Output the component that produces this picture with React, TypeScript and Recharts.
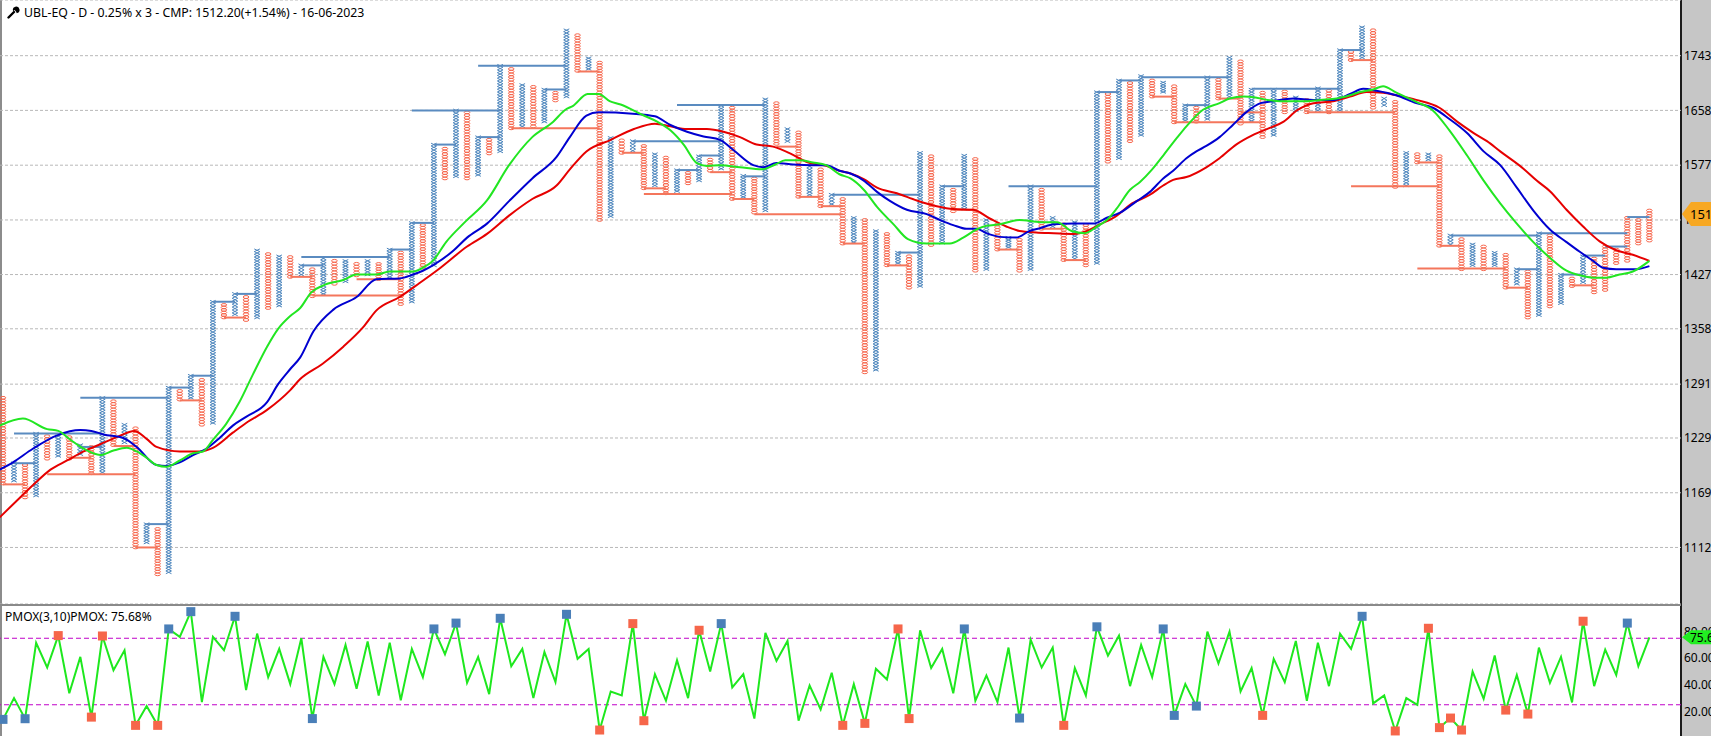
import React from 'react';
import {
  ComposedChart,
  Bar,
  Line,
  XAxis,
  YAxis,
  CartesianGrid,
  ReferenceLine,
} from 'recharts';

const title = 'UBL-EQ - D - 0.25% x 3 - CMP: 1512.20(+1.54%) - 16-06-2023';
const oscTitle = 'PMOX(3,10)PMOX: 75.68%';
const cmp = 1512.2;
const cmpText = '1512.20';
const pmoxLast = 75.68;
const pmoxText = '75.68';

const priceTicks = [1112, 1169, 1229, 1291, 1358, 1427, 1500, 1577, 1658, 1743];
const oscTicks = [20, 40, 60, 80];

// one char per column, O = falling (red), X = rising (blue)
const colType =
  'OXOXOXOXOXOXOXOXOXOXOXOXOXOXOXOXOXOXOXOXOXOXOXOXOXOXOXOXOXOXOXOXOXOXOXOXOXOXOXOXOXOXOXOXOXOXOXOXOXOXOXOXOXOXOXOXOXOXOXOXOXOXOXOXOXOXOXOXOXOXOXOX';

const colLow = [
  1179, 1182, 1164, 1166, 1206, 1209, 1206, 1211, 1190, 1191,
  1221, 1224, 1112, 1117, 1085, 1087, 1273, 1275, 1244, 1246,
  1372, 1376, 1369, 1372, 1384, 1387, 1424, 1427, 1399, 1402,
  1415, 1418, 1426, 1427, 1421, 1424, 1389, 1392, 1436, 1439,
  1558, 1561, 1558, 1563, 1594, 1597, 1631, 1634, 1634, 1641,
  1673, 1679, 1719, 1722, 1500, 1505, 1595, 1598, 1544, 1548,
  1537, 1540, 1551, 1555, 1569, 1572, 1529, 1532, 1510, 1513,
  1608, 1612, 1532, 1535, 1519, 1522, 1468, 1470, 1305, 1308,
  1439, 1442, 1410, 1412, 1466, 1469, 1512, 1515, 1432, 1434,
  1460, 1463, 1432, 1434, 1488, 1491, 1446, 1448, 1439, 1442,
  1582, 1587, 1612, 1621, 1679, 1686, 1640, 1643, 1641, 1645,
  1676, 1679, 1638, 1642, 1618, 1621, 1655, 1658, 1655, 1658,
  1655, 1658, 1736, 1740, 1662, 1666, 1546, 1548, 1581, 1585,
  1465, 1467, 1434, 1439, 1434, 1439, 1410, 1415, 1372, 1375,
  1386, 1390, 1412, 1417, 1404, 1407, 1442, 1445, 1468, 1472,
];

const colHigh = [
  1275, 1201, 1199, 1234, 1231, 1231, 1230, 1221, 1219, 1275,
  1271, 1244, 1240, 1136, 1131, 1287, 1283, 1301, 1296, 1392,
  1388, 1402, 1398, 1459, 1454, 1451, 1450, 1439, 1434, 1448,
  1445, 1445, 1441, 1445, 1441, 1460, 1456, 1496, 1493, 1607,
  1601, 1658, 1655, 1618, 1614, 1727, 1722, 1697, 1694, 1690,
  1685, 1784, 1776, 1739, 1732, 1617, 1613, 1612, 1605, 1593,
  1588, 1570, 1566, 1590, 1585, 1665, 1662, 1562, 1558, 1675,
  1669, 1630, 1625, 1575, 1571, 1535, 1529, 1503, 1500, 1485,
  1481, 1456, 1451, 1595, 1590, 1547, 1542, 1591, 1586, 1500,
  1494, 1476, 1473, 1547, 1542, 1503, 1494, 1497, 1493, 1686,
  1683, 1704, 1700, 1711, 1704, 1701, 1695, 1666, 1662, 1709,
  1705, 1740, 1734, 1690, 1685, 1690, 1687, 1678, 1674, 1692,
  1688, 1752, 1749, 1789, 1784, 1676, 1671, 1595, 1593, 1593,
  1590, 1479, 1474, 1467, 1464, 1456, 1453, 1434, 1431, 1482,
  1479, 1427, 1422, 1451, 1448, 1464, 1460, 1503, 1500, 1513,
];

// moving averages: [column position, price]
const maGreen = [
  [-0.3, 1243], [1.8, 1251], [4, 1239], [5, 1237], [6.1, 1227], [7.3, 1217], [8.8, 1210], [10, 1215],
  [11.2, 1218], [12.1, 1214], [13, 1207], [13.9, 1199], [14.8, 1197], [16, 1204], [17.2, 1212], [18.1, 1214],
  [19, 1227], [20.2, 1245], [21.4, 1270], [22.6, 1302], [23.9, 1336], [24.9, 1358], [26, 1374], [26.9, 1384],
  [27.9, 1404], [29, 1413], [30.8, 1420], [32, 1427], [33.8, 1427], [35, 1431], [37.1, 1431], [38, 1436],
  [38.9, 1445], [40.1, 1470], [41.8, 1497], [43.8, 1527], [45.8, 1577], [47.9, 1618], [49.8, 1641], [50.9, 1659],
  [51.6, 1665], [52.9, 1683], [53.9, 1683], [54.9, 1672], [55.9, 1667], [57.9, 1651], [59.2, 1641], [60.4, 1628],
  [61.6, 1607], [62.8, 1580], [63.7, 1576], [64.9, 1577], [66.7, 1574], [68.7, 1571], [69.9, 1578], [70.8, 1584],
  [72.1, 1584], [73.3, 1581], [74.5, 1577], [75.7, 1564], [76.7, 1558], [77.9, 1542], [79.1, 1518], [80.6, 1494],
  [81.9, 1474], [83.6, 1468], [85.7, 1468], [86.9, 1476], [88.1, 1487], [89, 1492], [90.2, 1494], [92, 1500],
  [93.9, 1497], [95.4, 1497], [96.7, 1485], [97.9, 1482], [99, 1491], [99.9, 1500], [100.8, 1516], [102, 1542],
  [102.9, 1553], [104, 1571], [105, 1591], [106.2, 1616], [107.1, 1634], [108.6, 1659], [110.1, 1669], [111, 1676],
  [112.3, 1679], [113.2, 1678], [114.4, 1674], [115.6, 1672], [116.8, 1672], [118, 1672], [119.2, 1674], [120.7, 1676],
  [121.9, 1681], [122.8, 1686], [124, 1690], [124.9, 1695], [126.1, 1685], [127.9, 1671], [129.4, 1658], [130.9, 1628],
  [132.5, 1591], [134, 1555], [135.5, 1523], [137, 1495], [138.5, 1470], [140, 1449], [141.5, 1432], [142.7, 1426],
  [143.9, 1423], [145.1, 1423], [146.3, 1427], [147.5, 1431], [149, 1445],
];

const maBlue = [
  [-0.3, 1194], [0.9, 1202], [2.7, 1217], [4.9, 1232], [7, 1238], [8, 1237], [9.1, 1233], [10.9, 1229],
  [12.1, 1219], [13.9, 1199], [14.8, 1198], [16, 1202], [17.2, 1210], [18.4, 1217], [19.6, 1229], [20.8, 1243],
  [22, 1253], [23.9, 1270], [24.9, 1291], [26, 1309], [26.9, 1323], [28.1, 1355], [29.9, 1382], [32, 1398],
  [33.8, 1421], [35.9, 1422], [37.1, 1427], [38, 1432], [38.9, 1439], [40.8, 1459], [42, 1476], [43.8, 1495],
  [45.8, 1526], [47.9, 1558], [50.1, 1589], [51.3, 1618], [52.8, 1650], [53.9, 1655], [57, 1653], [59, 1649],
  [60.4, 1636], [61.9, 1626], [63.4, 1619], [64.9, 1614], [66.1, 1599], [67.9, 1577], [68.8, 1574], [70, 1580],
  [71.5, 1578], [73.3, 1577], [74.5, 1577], [75.7, 1569], [76.7, 1565], [77.9, 1555], [79.1, 1539], [80.3, 1526],
  [81.8, 1514], [83.6, 1508], [84.8, 1500], [86, 1493], [87.2, 1488], [88.1, 1488], [89, 1482], [90.2, 1477],
  [91.7, 1476], [92.9, 1485], [93.9, 1489], [95.1, 1494], [96.9, 1495], [98.7, 1495], [99.9, 1503], [101.1, 1510],
  [102.6, 1526], [103.8, 1539], [105, 1558], [105.9, 1569], [107.1, 1587], [108, 1597], [108.9, 1605], [110.1, 1618],
  [111.3, 1636], [112.5, 1655], [113.8, 1669], [114.9, 1672], [116.8, 1676], [118.6, 1674], [120.4, 1674], [121.9, 1683],
  [123.1, 1691], [124.3, 1688], [126.1, 1681], [127.9, 1669], [129.4, 1662], [130.9, 1645], [132.5, 1624], [134, 1597],
  [135.5, 1577], [137, 1545], [138.5, 1513], [140, 1487], [141.5, 1470], [142.7, 1457], [143.9, 1445], [144.8, 1436],
  [146, 1434], [147.8, 1434], [149, 1438],
];

const maRed = [
  [-0.3, 1143], [1.2, 1160], [2.7, 1177], [4.3, 1194], [5.8, 1204], [7.3, 1214], [8.8, 1222], [10.3, 1230],
  [11.9, 1237], [13, 1228], [13.9, 1219], [16, 1214], [17.8, 1214], [19, 1218], [20.8, 1235], [22, 1246],
  [23.9, 1261], [26, 1284], [26.9, 1297], [28.9, 1315], [30.8, 1336], [32.6, 1360], [33.8, 1381], [35.9, 1398],
  [37.7, 1416], [39.6, 1436], [42, 1464], [43.8, 1481], [45.8, 1506], [47.9, 1529], [50.1, 1548], [51.3, 1571],
  [52.8, 1597], [55, 1614], [57.1, 1630], [59, 1638], [60.4, 1634], [61.9, 1630], [63.7, 1630], [65.2, 1626],
  [66.7, 1618], [68.2, 1607], [69.7, 1604], [71.5, 1592], [72.7, 1582], [74.5, 1576], [75.7, 1569], [76.7, 1565],
  [77.9, 1557], [79.1, 1545], [80.9, 1537], [82.7, 1527], [84.5, 1519], [86, 1515], [87.8, 1514], [89.3, 1502],
  [90.8, 1491], [92, 1485], [93.5, 1483], [95.1, 1482], [96.9, 1481], [98.1, 1485], [99.3, 1494], [100.8, 1506],
  [102, 1521], [103.8, 1535], [105, 1548], [105.9, 1556], [107.1, 1560], [108.9, 1574], [110.1, 1587], [111.6, 1607],
  [113.1, 1621], [114.7, 1632], [115.9, 1641], [117.1, 1658], [118.6, 1669], [120.4, 1672], [121.9, 1679], [123.4, 1686],
  [124.9, 1685], [126.1, 1681], [127.9, 1674], [130, 1662], [131.6, 1641], [133.1, 1624], [134.3, 1612], [135.5, 1597],
  [137.6, 1572], [138.8, 1555], [140, 1540], [141.5, 1514], [143, 1491], [144.5, 1471], [146, 1459], [147.5, 1453],
  [149, 1445],
];

// breakout lines: [from column, to column, price]
const blueLines = [
  [1, 3, 1201], [1, 9, 1234], [7, 9, 1219], [7, 15, 1275], [13, 15, 1136], [15, 17, 1287], [17, 19, 1301],
  [19, 21, 1392], [21, 23, 1402], [27, 35, 1450], [27, 29, 1439], [35, 37, 1460], [37, 39, 1496], [39, 41, 1607],
  [37, 45, 1658], [43, 45, 1618], [43, 51, 1727], [49, 51, 1690], [57, 65, 1612], [61, 69, 1666], [61, 63, 1570],
  [63, 65, 1591], [67, 69, 1561], [75, 83, 1535], [81, 83, 1456], [85, 87, 1547], [91, 99, 1547], [99, 101, 1686],
  [101, 103, 1704], [103, 111, 1709], [107, 109, 1666], [113, 121, 1691], [121, 123, 1752], [131, 139, 1479],
  [139, 147, 1482], [137, 139, 1434], [141, 143, 1427], [143, 145, 1452], [145, 147, 1464], [147, 149, 1504],
];

const redLines = [
  [0, 2, 1178], [4, 12, 1189], [6, 8, 1207], [10, 12, 1220], [12, 14, 1112], [16, 18, 1272], [20, 22, 1372],
  [26, 28, 1424], [28, 36, 1400], [32, 36, 1421], [46, 54, 1631], [52, 54, 1718], [56, 58, 1595], [58, 60, 1544],
  [58, 66, 1536], [64, 66, 1567], [66, 68, 1529], [68, 76, 1508], [70, 72, 1604], [72, 74, 1532], [74, 76, 1519],
  [76, 78, 1468], [80, 82, 1439], [86, 88, 1514], [90, 92, 1460], [94, 96, 1488], [96, 98, 1446], [104, 106, 1679],
  [106, 114, 1640], [110, 112, 1676], [112, 114, 1655], [118, 126, 1655], [122, 124, 1736], [122, 130, 1547],
  [128, 130, 1581], [128, 136, 1435], [130, 132, 1465], [136, 138, 1410], [142, 144, 1413],
];

const oscValues = [
  14, 30, 14.5, 71.5, 53, 77, 33.6, 61, 15.7, 76.7,
  51, 66, 9.5, 24, 9.5, 82, 76, 95, 27, 76,
  66, 91.5, 36, 78.5, 45.7, 67, 40.5, 75, 14.6, 61,
  40.5, 70, 37, 72.6, 32, 71.6, 28.4, 67, 45.7, 82,
  63, 86.4, 41.5, 61, 33, 90, 54, 67, 30, 64.7,
  42, 93, 59.5, 67, 6, 35, 32, 86, 13, 48,
  28, 58.5, 30, 81, 50, 86, 38, 48, 14.6, 79,
  58, 73, 13, 39.5, 21.5, 49, 9.5, 40.5, 11, 52,
  44, 82, 14.6, 81, 52.6, 67, 33.6, 82, 28, 47,
  27, 68, 15, 74, 53, 68, 9.5, 52.6, 32, 83.6,
  62, 77, 39, 70, 45.7, 82, 17, 40.5, 24, 80,
  56, 80, 35, 52.6, 17, 59.5, 42, 73, 28, 71.6,
  39, 78.4, 67, 91.5, 26, 32, 5.3, 30, 25, 82.5,
  7.8, 15, 6, 50, 29.5, 62, 21, 47.4, 18, 68,
  41.5, 61, 26.7, 87.8, 39, 66.4, 47.4, 86.4, 54, 75.68,
];

const sigBlue = [0, 2, 15, 17, 21, 28, 39, 41, 45, 51, 65, 87, 92, 99, 105, 106, 108, 123, 147];
const sigRed = [5, 8, 9, 12, 14, 54, 57, 58, 63, 76, 78, 81, 82, 96, 114, 126, 129, 130, 131, 132, 136, 138, 143];

const BOX = 1.0025;
const FONT = "'Segoe UI', 'Noto Sans', Arial, sans-serif";
const X_DOMAIN = [-0.27, 151.86];
const PRICE_DOMAIN = [1056, 1834];

const cols = colLow.map((lo, i) => ({
  i,
  range: [lo, colHigh[i]],
  t: colType[i],
  n: Math.round(Math.log(colHigh[i] / lo) / Math.log(BOX)) + 1,
}));

const toRows = (arr: number[][]) => arr.map(([i, v]) => ({ i, v }));

const oscRows = oscValues.map((v, i) => ({
  i,
  v,
  s: sigBlue.includes(i) ? 'b' : sigRed.includes(i) ? 'r' : '',
}));

const PnfColumn = (props: any) => {
  const { x, y, width, height, payload } = props;
  if (x == null || y == null) return <g />;
  const cx = x + width / 2;
  const n = Math.max(payload.n, 2);
  const step = height / (n - 1);
  const hh = step / 2;
  if (payload.t === 'X') {
    let d = '';
    for (let k = 0; k < n; k++) {
      const cy = y + k * step;
      d += `M${cx - 2.8},${cy - hh}L${cx + 2.8},${cy + hh}M${cx + 2.8},${cy - hh}L${cx - 2.8},${cy + hh}`;
    }
    return <path d={d} stroke="#4d86bd" strokeWidth={1} fill="none" />;
  }
  const rings = [];
  for (let k = 0; k < n; k++) {
    rings.push(
      <ellipse key={k} cx={cx} cy={y + k * step} rx={2.8} ry={hh} stroke="#f7654b" strokeWidth={1} fill="none" />
    );
  }
  return <g>{rings}</g>;
};

const Badge = ({ viewBox, text, fill, dy = 0, half = 12, fontSize = 13 }: any) => {
  const x0 = viewBox.x + viewBox.width;
  const y0 = viewBox.y + dy;
  return (
    <g>
      <path
        d={`M${x0 + 1},${y0} L${x0 + 10},${y0 - half} L${x0 + 40},${y0 - half} L${x0 + 40},${y0 + half} L${x0 + 10},${y0 + half} Z`}
        fill={fill}
      />
      <text x={x0 + 9} y={y0 + fontSize * 0.36} fontSize={fontSize} fontFamily={FONT} fill="#000">
        {text}
      </text>
    </g>
  );
};

const SignalDot = (props: any) => {
  const { cx, cy, payload, index } = props;
  if (!payload || !payload.s) return <g key={index} />;
  return (
    <rect
      key={index}
      x={cx - 4.5}
      y={cy - 4.5}
      width={9}
      height={9}
      fill={payload.s === 'b' ? '#4a7fb8' : '#f6664a'}
    />
  );
};

const Wrench = () => (
  <svg width={13} height={13} viewBox="0 0 13 13" style={{ position: 'absolute', left: 7, top: 6 }}>
    <path d="M1.5 11.5 L7 6" stroke="#000" strokeWidth={2.4} strokeLinecap="round" />
    <path d="M6.2 5.2 A3.3 3.3 0 1 1 9.8 7.2 L9 5.4 L7.6 4 Z" fill="#000" />
  </svg>
);

const axisTick = { fontSize: 12, fill: '#000', fontFamily: FONT };
const layer: React.CSSProperties = { position: 'absolute', left: 0, pointerEvents: 'none' };

const App: React.FC = () => {
  return (
    <div
      style={{
        position: 'relative',
        width: 1711,
        height: 736,
        overflow: 'hidden',
        background: '#fff',
        fontFamily: FONT,
      }}
    >
      <style>{'body{margin:0;overflow:hidden}'}</style>
      <div style={{ position: 'absolute', left: 1681, top: 0, width: 30, height: 736, background: '#c6c6c6' }} />
      <div style={{ position: 'absolute', left: 1680, top: 0, width: 2, height: 736, background: '#1c1c1c' }} />
      <div style={{ position: 'absolute', left: 0, top: 0, width: 2, height: 736, background: '#8c8c8c' }} />
      <div style={{ position: 'absolute', left: 0, top: 604, width: 1681, height: 2, background: '#8a8a8a' }} />

      {/* price panel */}
      <div style={{ ...layer, top: 0 }}>
        <ComposedChart width={1711} height={604} data={cols} margin={{ top: 0, right: 0, bottom: 0, left: 0 }}>
          <CartesianGrid vertical={false} stroke="#b8b8b8" strokeDasharray="3 2" />
          <XAxis dataKey="i" type="number" domain={X_DOMAIN} allowDataOverflow hide />
          <YAxis
            orientation="right"
            width={30}
            scale="log"
            type="number"
            domain={PRICE_DOMAIN}
            allowDataOverflow
            ticks={priceTicks}
            interval={0}
            tickLine={false}
            axisLine={false}
            tickSize={0}
            tickMargin={3}
            tick={axisTick}
          />
          {blueLines.map(([a, b, p], k) => (
            <ReferenceLine
              key={`b${k}`}
              segment={[{ x: a, y: p }, { x: b, y: p }]}
              stroke="#5a8bc0"
              strokeWidth={2}
            />
          ))}
          {redLines.map(([a, b, p], k) => (
            <ReferenceLine
              key={`r${k}`}
              segment={[{ x: a, y: p }, { x: b, y: p }]}
              stroke="#f4765c"
              strokeWidth={2}
            />
          ))}
          <Bar dataKey="range" barSize={7} shape={PnfColumn} isAnimationActive={false} />
          <Line data={toRows(maRed)} dataKey="v" type="monotone" stroke="#e60000" strokeWidth={2} dot={false} activeDot={false} isAnimationActive={false} />
          <Line data={toRows(maBlue)} dataKey="v" type="monotone" stroke="#0000d0" strokeWidth={2} dot={false} activeDot={false} isAnimationActive={false} />
          <Line data={toRows(maGreen)} dataKey="v" type="monotone" stroke="#22e622" strokeWidth={2} dot={false} activeDot={false} isAnimationActive={false} />
        </ComposedChart>
      </div>

      {/* last-price badge drawn on top of the axis labels */}
      <div style={{ ...layer, top: 0 }}>
        <ComposedChart width={1711} height={604} data={cols} margin={{ top: 0, right: 0, bottom: 0, left: 0 }}>
          <XAxis dataKey="i" type="number" domain={X_DOMAIN} allowDataOverflow hide />
          <YAxis
            orientation="right"
            width={30}
            scale="log"
            type="number"
            domain={PRICE_DOMAIN}
            allowDataOverflow
            tick={false}
            tickLine={false}
            axisLine={false}
          />
          <ReferenceLine
            y={cmp}
            stroke="none"
            label={(p: any) => <Badge viewBox={p.viewBox} text={cmpText} fill="#f7a823" dy={3} />}
          />
        </ComposedChart>
      </div>

      {/* oscillator panel */}
      <div style={{ ...layer, top: 605 }}>
        <ComposedChart width={1711} height={133} data={oscRows} margin={{ top: 0, right: 0, bottom: 0, left: 0 }}>
          <XAxis dataKey="i" type="number" domain={X_DOMAIN} allowDataOverflow hide />
          <YAxis
            orientation="right"
            width={30}
            type="number"
            domain={[0, 100]}
            allowDataOverflow
            ticks={oscTicks}
            interval={0}
            tickLine={false}
            axisLine={false}
            tickSize={0}
            tickMargin={3}
            tickFormatter={(v: number) => v.toFixed(2)}
            tick={axisTick}
          />
          <ReferenceLine y={75} stroke="#c000c8" strokeDasharray="5 3" />
          <ReferenceLine y={25} stroke="#c000c8" strokeDasharray="5 3" />
          <Line dataKey="v" type="linear" stroke="#1ee81e" strokeWidth={2} dot={SignalDot} activeDot={false} isAnimationActive={false} />
        </ComposedChart>
      </div>

      <div style={{ ...layer, top: 605 }}>
        <ComposedChart width={1711} height={133} data={oscRows} margin={{ top: 0, right: 0, bottom: 0, left: 0 }}>
          <XAxis dataKey="i" type="number" domain={X_DOMAIN} allowDataOverflow hide />
          <YAxis
            orientation="right"
            width={30}
            type="number"
            domain={[0, 100]}
            allowDataOverflow
            tick={false}
            tickLine={false}
            axisLine={false}
          />
          <ReferenceLine
            y={pmoxLast}
            stroke="none"
            label={(p: any) => (
              <Badge viewBox={p.viewBox} text={pmoxText} fill="#22ee22" half={7} fontSize={12} />
            )}
          />
        </ComposedChart>
      </div>

      <Wrench />
      <div
        style={{
          position: 'absolute',
          left: 24,
          top: 4,
          fontSize: 12.3,
          color: '#000',
          whiteSpace: 'nowrap',
        }}
      >
        {title}
      </div>
      <div style={{ position: 'absolute', left: 5, top: 608, fontSize: 12, color: '#000', whiteSpace: 'nowrap' }}>
        {oscTitle}
      </div>
    </div>
  );
};

export default App;
